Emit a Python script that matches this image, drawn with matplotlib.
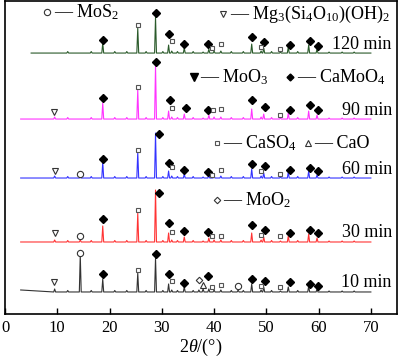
import numpy as np
import matplotlib
matplotlib.use("Agg")
import matplotlib.pyplot as plt

plt.rcParams['font.family'] = ['Liberation Serif', 'DejaVu Serif']
plt.rcParams['mathtext.fontset'] = 'custom'
plt.rcParams['mathtext.rm'] = 'Liberation Serif'
plt.rcParams['mathtext.it'] = 'Liberation Serif:italic'

# peak positions (2theta, deg) shared by all patterns
peak_pos = [9.5, 14.4, 18.7, 25.4, 28.8, 31.3, 31.9, 34.3, 37.1, 37.9, 39.0,
            40.0, 41.3, 44.6, 47.2, 49.0, 49.5, 52.7, 54.2, 58.1, 59.7]
# small background bumps
bump_pos = [12.0, 16.5, 21.0, 23.3, 27.0, 30.2, 33.0, 36.0, 43.3, 45.6,
            51.0, 56.0, 62.0, 64.5, 66.8]

labels = ['10 min', '30 min', '60 min', '90 min', '120 min']
colors = ['#333333', '#ff3333', '#3333ff', '#ff33ff', '#2a5a2a']
offsets = [22, 72, 136, 195, 261]
starts = [3.0, 3.0, 3.0, 3.0, 5.0]

heights = {
    '10 min':  [3, 37, 13, 19, 34, 8, 2, 5, 2, 3, 3, 2, 2, 2, 8, 2, 5, 1, 5, 6, 3],
    '30 min':  [2, 2, 16, 29, 52, 9, 2, 5, 0, 1, 4, 2, 2, 0, 9, 2, 5, 1, 6, 8, 4],
    '60 min':  [2, 1, 16, 26, 45, 7, 2, 4, 0, 1, 3, 2, 2, 0, 9, 2, 5, 1, 6, 7, 3],
    '90 min':  [2, 0, 16, 29, 54, 8, 2, 5, 0, 1, 4, 2, 2, 0, 10, 2, 5, 1, 6, 8, 4],
    '120 min': [0, 0, 10, 25, 36, 8, 2, 5, 0, 1, 4, 2, 2, 0, 9, 2, 5, 1, 6, 8, 4],
}
bump_h = [1.5, 1.5, 1.5, 1.5, 1.5, 1.5, 1.5, 1.5, 1.5, 1.5, 1.5, 1.5, 1.0, 1.0, 1.0]

# phase markers: (2theta, height above baseline)
cam = {  # CaMoO4, filled diamond
    '10 min':  [(18.7, 18), (28.8, 38), (31.3, 18), (34.3, 9), (38.8, 16),
                (47.3, 13), (49.8, 11), (54.5, 10), (58.3, 8), (59.8, 6)],
    '30 min':  [(18.7, 23), (29.4, 49), (31.3, 19), (34.3, 11), (38.9, 10),
                (47.3, 17), (49.8, 12), (54.5, 9), (58.3, 12), (59.8, 9)],
    '60 min':  [(18.7, 19), (29.4, 44), (31.3, 15), (34.3, 8), (38.9, 6),
                (47.3, 14), (49.8, 12), (54.5, 8), (58.3, 10), (59.8, 7)],
    '90 min':  [(18.7, 21), (28.9, 57), (31.6, 19), (34.6, 11), (38.9, 9),
                (47.3, 19), (49.8, 12), (54.5, 9), (58.3, 14), (59.8, 9)],
    '120 min': [(18.7, 13), (28.9, 40), (31.4, 19), (34.3, 9), (38.9, 9),
                (47.3, 16), (49.6, 11), (54.5, 8), (58.3, 12), (59.8, 7)],
}
caso4 = {  # CaSO4, open square
    '10 min':  [(25.4, 22), (31.9, 11), (39.6, 5), (41.3, 7), (49.0, 6), (52.7, 5)],
    '30 min':  [(25.4, 32), (31.9, 10), (39.6, 6), (41.3, 6), (49.0, 7), (52.7, 6)],
    '60 min':  [(25.4, 28), (31.9, 11), (39.6, 3), (41.3, 8), (49.0, 7), (52.7, 4)],
    '90 min':  [(25.4, 32), (31.9, 11), (39.8, 9), (41.3, 10), (52.7, 4)],
    '120 min': [(25.4, 28), (31.9, 12), (39.6, 5), (41.3, 9), (49.0, 6), (52.7, 4)],
}
mos2 = {'10 min': [(14.4, 39), (44.6, 6)], '30 min': [(14.4, 6)], '60 min': [(14.4, 4)]}
talc = {'10 min': [(9.4, 10)], '30 min': [(9.5, 9)], '60 min': [(9.5, 7)], '90 min': [(9.4, 7)]}
moo2 = {'10 min': [(37.1, 12)]}
cao = {'10 min': [(37.9, 7)]}

fig = plt.figure(figsize=(4.0, 3.58), dpi=100)
ax = fig.add_axes([0.0125, 0.123, 0.98, 0.874])

w = 0.18
for lab, col, off, x0 in zip(labels, colors, offsets, starts):
    pts = [(x0, off + (2 if lab == '10 min' else 0))]
    feats = sorted([(p, h) for p, h in zip(peak_pos, heights[lab]) if h > 0 and p > x0] +
                   [(p, h) for p, h in zip(bump_pos, bump_h) if p > x0])
    for p, h in feats:
        pts += [(p - w, off), (p, off + h), (p + w, off)]
    pts.append((70.0, off))
    xs, ys = zip(*pts)
    ax.plot(xs, ys, color=col, lw=0.8)
    ax.text(74, off + 9, lab, ha='right', va='center', fontsize=13)

    def mk(d, **kw):
        if lab in d:
            px, py = zip(*d[lab])
            ax.plot(px, np.array(py) + off, ls='none', **kw)

    mk(cam, marker='D', ms=4.3, color='black')
    mk(caso4, marker='s', ms=3.3, mfc='white', mec='#555555', mew=0.8)
    mk(mos2, marker='o', ms=4.5, mfc='white', mec='#333333', mew=0.8)
    mk(talc, marker='v', ms=5, mfc='white', mec='#333333', mew=0.8)
    mk(moo2, marker='D', ms=3.3, mfc='white', mec='#333333', mew=0.8)
    mk(cao, marker='^', ms=4.5, mfc='white', mec='#333333', mew=0.8)

# legend-like keys
keys = [
    (8.0, 302, dict(marker='o', ms=4.5, mfc='white', mec='#333333', mew=0.8), 'MoS$_2$'),
    (41.7, 300, dict(marker='v', ms=4.5, mfc='white', mec='#333333', mew=0.8),
     'Mg$_3$(Si$_4$O$_{10}$)(OH)$_2$'),
    (36.1, 237, dict(marker='v', ms=5.5, color='black'), 'MoO$_3$'),
    (54.5, 237, dict(marker='D', ms=3.5, color='black'), 'CaMoO$_4$'),
    (40.5, 171, dict(marker='s', ms=3.3, mfc='white', mec='#555555', mew=0.8), 'CaSO$_4$'),
    (57.9, 171, dict(marker='^', ms=4, mfc='white', mec='#333333', mew=0.8), 'CaO'),
    (40.5, 114, dict(marker='D', ms=3.3, mfc='white', mec='#333333', mew=0.8), 'MoO$_2$'),
]
for kx, ky, style, name in keys:
    ax.plot([kx], [ky], ls='none', **style)
    ax.text(kx + 1.3, ky, '\u2014 ' + name, ha='left', va='center', fontsize=13)

ax.set_xlim(0, 75)
ax.set_ylim(0, 313)
ax.set_xticks(range(0, 71, 10))
ax.set_yticks([])
ax.tick_params(axis='x', direction='in', length=4, width=1, labelsize=12, pad=4)
for s in ax.spines.values():
    s.set_linewidth(1.2)
ax.set_xlabel(r'$\mathit{2\theta}$/(°)', fontsize=13, labelpad=1)

fig.savefig('out.png', dpi=100)
